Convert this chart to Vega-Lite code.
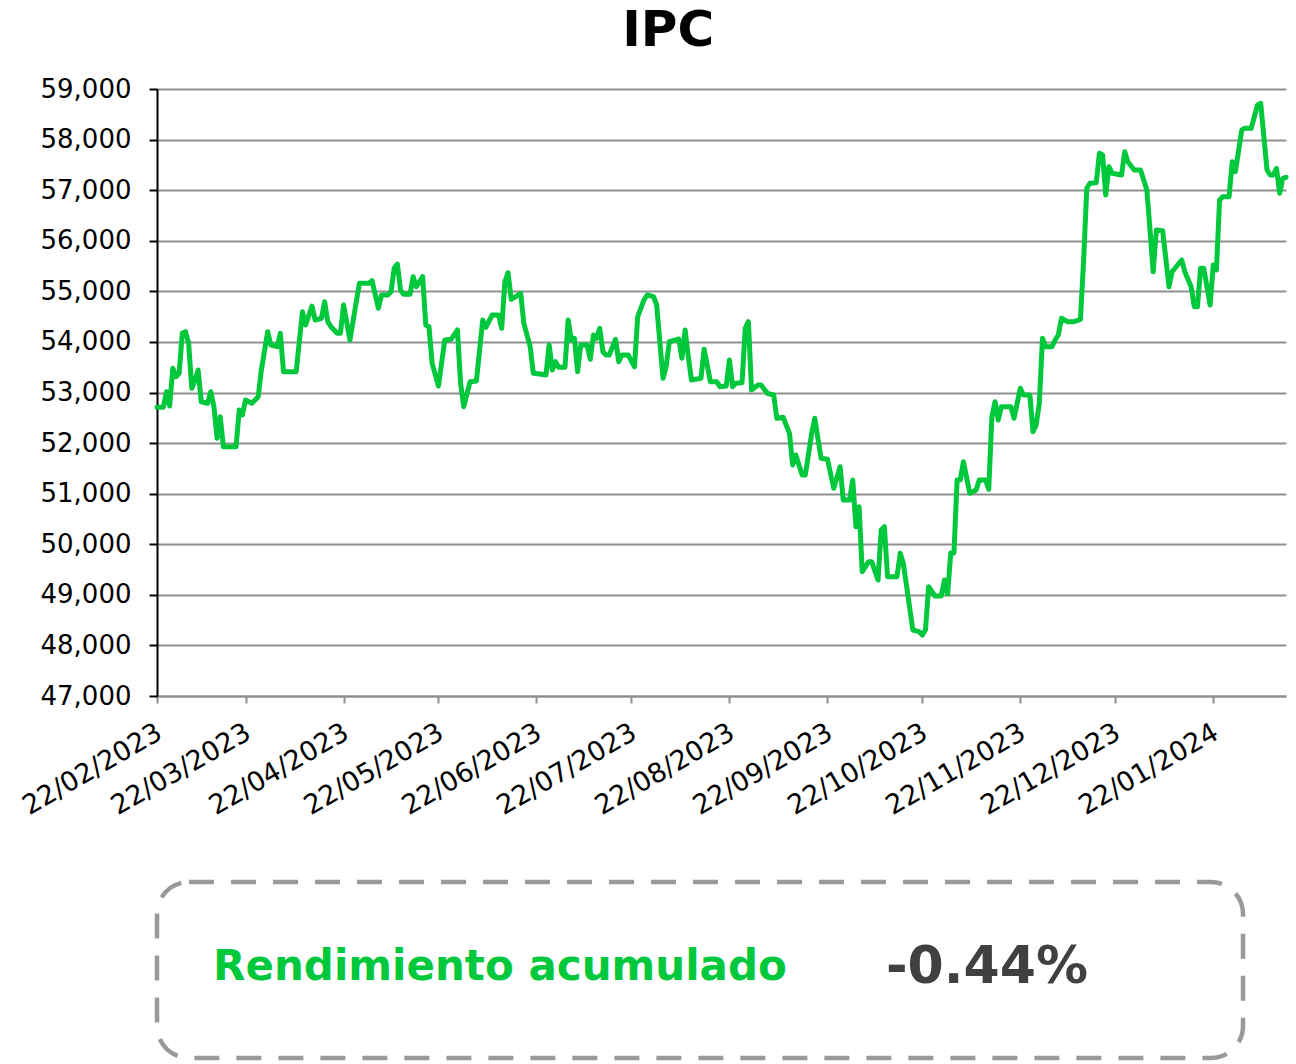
{
 "$schema": "https://vega.github.io/schema/vega-lite/v6.json",
 "padding": {"left": 17, "top": 6, "right": 5, "bottom": 0},
 "background": "white",
 "config": {"view": {"stroke": null}, "font": "DejaVu Sans"},
 "bounds": "flush",
 "spacing": 186,
 "vconcat": [
  {
   "width": 1129,
   "height": 607,
   "title": {"text": "IPC", "fontSize": 50, "fontWeight": "bold", "font": "DejaVu Sans", "color": "black", "anchor": "middle", "frame": "bounds", "offset": 20, "dx": 15},
   "data": {"values": [
    {"fecha": "2023-02-22", "valor": 52708}, {"fecha": "2023-02-24", "valor": 52708}, {"fecha": "2023-02-25", "valor": 53016}, {"fecha": "2023-02-26", "valor": 52733}, {"fecha": "2023-02-27", "valor": 53479}, {"fecha": "2023-02-28", "valor": 53312},
    {"fecha": "2023-03-01", "valor": 53380}, {"fecha": "2023-03-02", "valor": 54170}, {"fecha": "2023-03-03", "valor": 54202}, {"fecha": "2023-03-04", "valor": 53973}, {"fecha": "2023-03-05", "valor": 53083}, {"fecha": "2023-03-06", "valor": 53247}, {"fecha": "2023-03-07", "valor": 53445}, {"fecha": "2023-03-08", "valor": 52818}, {"fecha": "2023-03-10", "valor": 52787}, {"fecha": "2023-03-11", "valor": 53016}, {"fecha": "2023-03-12", "valor": 52719}, {"fecha": "2023-03-13", "valor": 52095}, {"fecha": "2023-03-14", "valor": 52522}, {"fecha": "2023-03-15", "valor": 51929}, {"fecha": "2023-03-19", "valor": 51929}, {"fecha": "2023-03-20", "valor": 52654}, {"fecha": "2023-03-21", "valor": 52555}, {"fecha": "2023-03-22", "valor": 52852}, {"fecha": "2023-03-24", "valor": 52787}, {"fecha": "2023-03-26", "valor": 52917}, {"fecha": "2023-03-27", "valor": 53445}, {"fecha": "2023-03-29", "valor": 54202}, {"fecha": "2023-03-30", "valor": 53939},
    {"fecha": "2023-04-01", "valor": 53906}, {"fecha": "2023-04-02", "valor": 54170}, {"fecha": "2023-04-03", "valor": 53411}, {"fecha": "2023-04-07", "valor": 53411}, {"fecha": "2023-04-09", "valor": 54597}, {"fecha": "2023-04-10", "valor": 54335}, {"fecha": "2023-04-12", "valor": 54710}, {"fecha": "2023-04-13", "valor": 54433}, {"fecha": "2023-04-15", "valor": 54467}, {"fecha": "2023-04-16", "valor": 54795}, {"fecha": "2023-04-17", "valor": 54400}, {"fecha": "2023-04-18", "valor": 54301}, {"fecha": "2023-04-20", "valor": 54170}, {"fecha": "2023-04-21", "valor": 54170}, {"fecha": "2023-04-22", "valor": 54730}, {"fecha": "2023-04-24", "valor": 54038}, {"fecha": "2023-04-27", "valor": 55159}, {"fecha": "2023-04-30", "valor": 55159},
    {"fecha": "2023-05-01", "valor": 55210}, {"fecha": "2023-05-03", "valor": 54665}, {"fecha": "2023-05-04", "valor": 54928}, {"fecha": "2023-05-06", "valor": 54928}, {"fecha": "2023-05-07", "valor": 54993}, {"fecha": "2023-05-08", "valor": 55455}, {"fecha": "2023-05-09", "valor": 55540}, {"fecha": "2023-05-10", "valor": 55026}, {"fecha": "2023-05-11", "valor": 54941}, {"fecha": "2023-05-13", "valor": 54941}, {"fecha": "2023-05-14", "valor": 55289}, {"fecha": "2023-05-15", "valor": 55092}, {"fecha": "2023-05-17", "valor": 55289}, {"fecha": "2023-05-18", "valor": 54335}, {"fecha": "2023-05-19", "valor": 54301}, {"fecha": "2023-05-20", "valor": 53577}, {"fecha": "2023-05-22", "valor": 53129}, {"fecha": "2023-05-24", "valor": 54038}, {"fecha": "2023-05-26", "valor": 54052}, {"fecha": "2023-05-28", "valor": 54236}, {"fecha": "2023-05-29", "valor": 53182}, {"fecha": "2023-05-30", "valor": 52719},
    {"fecha": "2023-06-01", "valor": 53214}, {"fecha": "2023-06-03", "valor": 53228}, {"fecha": "2023-06-05", "valor": 54433}, {"fecha": "2023-06-06", "valor": 54289}, {"fecha": "2023-06-08", "valor": 54532}, {"fecha": "2023-06-10", "valor": 54532}, {"fecha": "2023-06-11", "valor": 54269}, {"fecha": "2023-06-12", "valor": 55190}, {"fecha": "2023-06-13", "valor": 55368}, {"fecha": "2023-06-14", "valor": 54843}, {"fecha": "2023-06-17", "valor": 54961}, {"fecha": "2023-06-18", "valor": 54368}, {"fecha": "2023-06-20", "valor": 53906}, {"fecha": "2023-06-21", "valor": 53380}, {"fecha": "2023-06-23", "valor": 53366}, {"fecha": "2023-06-25", "valor": 53346}, {"fecha": "2023-06-26", "valor": 53939}, {"fecha": "2023-06-27", "valor": 53445}, {"fecha": "2023-06-28", "valor": 53609}, {"fecha": "2023-06-29", "valor": 53498},
    {"fecha": "2023-07-01", "valor": 53498}, {"fecha": "2023-07-02", "valor": 54433}, {"fecha": "2023-07-03", "valor": 54038}, {"fecha": "2023-07-04", "valor": 54072}, {"fecha": "2023-07-05", "valor": 53411}, {"fecha": "2023-07-06", "valor": 53939}, {"fecha": "2023-07-08", "valor": 53939}, {"fecha": "2023-07-09", "valor": 53656}, {"fecha": "2023-07-10", "valor": 54137}, {"fecha": "2023-07-11", "valor": 54072}, {"fecha": "2023-07-12", "valor": 54269}, {"fecha": "2023-07-13", "valor": 53807}, {"fecha": "2023-07-14", "valor": 53741}, {"fecha": "2023-07-15", "valor": 53741}, {"fecha": "2023-07-17", "valor": 54052}, {"fecha": "2023-07-18", "valor": 53609}, {"fecha": "2023-07-19", "valor": 53741}, {"fecha": "2023-07-21", "valor": 53741}, {"fecha": "2023-07-23", "valor": 53510}, {"fecha": "2023-07-24", "valor": 54499}, {"fecha": "2023-07-26", "valor": 54829}, {"fecha": "2023-07-27", "valor": 54928}, {"fecha": "2023-07-29", "valor": 54894}, {"fecha": "2023-07-30", "valor": 54730},
    {"fecha": "2023-08-01", "valor": 53281}, {"fecha": "2023-08-02", "valor": 53510}, {"fecha": "2023-08-03", "valor": 54004}, {"fecha": "2023-08-05", "valor": 54038}, {"fecha": "2023-08-06", "valor": 54058}, {"fecha": "2023-08-07", "valor": 53676}, {"fecha": "2023-08-08", "valor": 54236}, {"fecha": "2023-08-09", "valor": 53708}, {"fecha": "2023-08-10", "valor": 53247}, {"fecha": "2023-08-13", "valor": 53281}, {"fecha": "2023-08-14", "valor": 53854}, {"fecha": "2023-08-16", "valor": 53214}, {"fecha": "2023-08-18", "valor": 53214}, {"fecha": "2023-08-19", "valor": 53115}, {"fecha": "2023-08-21", "valor": 53129}, {"fecha": "2023-08-22", "valor": 53643}, {"fecha": "2023-08-23", "valor": 53115}, {"fecha": "2023-08-24", "valor": 53182}, {"fecha": "2023-08-26", "valor": 53194}, {"fecha": "2023-08-27", "valor": 54269}, {"fecha": "2023-08-28", "valor": 54400}, {"fecha": "2023-08-29", "valor": 53050}, {"fecha": "2023-08-31", "valor": 53148},
    {"fecha": "2023-09-01", "valor": 53148}, {"fecha": "2023-09-03", "valor": 52984}, {"fecha": "2023-09-05", "valor": 52951}, {"fecha": "2023-09-06", "valor": 52490}, {"fecha": "2023-09-08", "valor": 52510}, {"fecha": "2023-09-10", "valor": 52193}, {"fecha": "2023-09-11", "valor": 51567}, {"fecha": "2023-09-12", "valor": 51765}, {"fecha": "2023-09-14", "valor": 51369}, {"fecha": "2023-09-15", "valor": 51369}, {"fecha": "2023-09-17", "valor": 52193}, {"fecha": "2023-09-18", "valor": 52490}, {"fecha": "2023-09-20", "valor": 51699}, {"fecha": "2023-09-22", "valor": 51680}, {"fecha": "2023-09-24", "valor": 51106}, {"fecha": "2023-09-26", "valor": 51533}, {"fecha": "2023-09-27", "valor": 50875}, {"fecha": "2023-09-29", "valor": 50875}, {"fecha": "2023-09-30", "valor": 51270},
    {"fecha": "2023-10-01", "valor": 50347}, {"fecha": "2023-10-02", "valor": 50742}, {"fecha": "2023-10-03", "valor": 49457}, {"fecha": "2023-10-05", "valor": 49655}, {"fecha": "2023-10-06", "valor": 49655}, {"fecha": "2023-10-08", "valor": 49293}, {"fecha": "2023-10-09", "valor": 50282}, {"fecha": "2023-10-10", "valor": 50347}, {"fecha": "2023-10-11", "valor": 49359}, {"fecha": "2023-10-14", "valor": 49359}, {"fecha": "2023-10-15", "valor": 49821}, {"fecha": "2023-10-16", "valor": 49623}, {"fecha": "2023-10-19", "valor": 48305}, {"fecha": "2023-10-21", "valor": 48271}, {"fecha": "2023-10-22", "valor": 48206}, {"fecha": "2023-10-23", "valor": 48305}, {"fecha": "2023-10-24", "valor": 49161}, {"fecha": "2023-10-26", "valor": 48977}, {"fecha": "2023-10-28", "valor": 48977}, {"fecha": "2023-10-29", "valor": 49293}, {"fecha": "2023-10-30", "valor": 49017}, {"fecha": "2023-10-31", "valor": 49827},
    {"fecha": "2023-11-01", "valor": 49827}, {"fecha": "2023-11-02", "valor": 51270}, {"fecha": "2023-11-03", "valor": 51270}, {"fecha": "2023-11-04", "valor": 51632}, {"fecha": "2023-11-06", "valor": 51007}, {"fecha": "2023-11-08", "valor": 51073}, {"fecha": "2023-11-09", "valor": 51270}, {"fecha": "2023-11-11", "valor": 51270}, {"fecha": "2023-11-12", "valor": 51086}, {"fecha": "2023-11-13", "valor": 52522}, {"fecha": "2023-11-14", "valor": 52818}, {"fecha": "2023-11-15", "valor": 52456}, {"fecha": "2023-11-16", "valor": 52719}, {"fecha": "2023-11-19", "valor": 52719}, {"fecha": "2023-11-20", "valor": 52490}, {"fecha": "2023-11-22", "valor": 53083}, {"fecha": "2023-11-23", "valor": 52951}, {"fecha": "2023-11-25", "valor": 52951}, {"fecha": "2023-11-26", "valor": 52225}, {"fecha": "2023-11-27", "valor": 52358}, {"fecha": "2023-11-28", "valor": 52787}, {"fecha": "2023-11-29", "valor": 54071}, {"fecha": "2023-11-30", "valor": 53906},
    {"fecha": "2023-12-02", "valor": 53906}, {"fecha": "2023-12-03", "valor": 54038}, {"fecha": "2023-12-04", "valor": 54137}, {"fecha": "2023-12-05", "valor": 54467}, {"fecha": "2023-12-07", "valor": 54400}, {"fecha": "2023-12-09", "valor": 54400}, {"fecha": "2023-12-11", "valor": 54447}, {"fecha": "2023-12-12", "valor": 55600}, {"fecha": "2023-12-13", "valor": 57037}, {"fecha": "2023-12-14", "valor": 57136}, {"fecha": "2023-12-16", "valor": 57148}, {"fecha": "2023-12-17", "valor": 57729}, {"fecha": "2023-12-18", "valor": 57695}, {"fecha": "2023-12-19", "valor": 56904}, {"fecha": "2023-12-20", "valor": 57464}, {"fecha": "2023-12-21", "valor": 57333}, {"fecha": "2023-12-24", "valor": 57300}, {"fecha": "2023-12-25", "valor": 57760}, {"fecha": "2023-12-26", "valor": 57563}, {"fecha": "2023-12-28", "valor": 57399}, {"fecha": "2023-12-30", "valor": 57399},
    {"fecha": "2024-01-01", "valor": 57003}, {"fecha": "2024-01-02", "valor": 56213}, {"fecha": "2024-01-03", "valor": 55388}, {"fecha": "2024-01-04", "valor": 56213}, {"fecha": "2024-01-06", "valor": 56199}, {"fecha": "2024-01-08", "valor": 55092}, {"fecha": "2024-01-09", "valor": 55388}, {"fecha": "2024-01-12", "valor": 55620}, {"fecha": "2024-01-13", "valor": 55388}, {"fecha": "2024-01-15", "valor": 55092}, {"fecha": "2024-01-16", "valor": 54696}, {"fecha": "2024-01-17", "valor": 54696}, {"fecha": "2024-01-18", "valor": 55455}, {"fecha": "2024-01-19", "valor": 55455}, {"fecha": "2024-01-21", "valor": 54730}, {"fecha": "2024-01-22", "valor": 55521}, {"fecha": "2024-01-23", "valor": 55422}, {"fecha": "2024-01-24", "valor": 56806}, {"fecha": "2024-01-25", "valor": 56871}, {"fecha": "2024-01-27", "valor": 56871}, {"fecha": "2024-01-28", "valor": 57563}, {"fecha": "2024-01-29", "valor": 57365}, {"fecha": "2024-01-31", "valor": 58189},
    {"fecha": "2024-02-01", "valor": 58223}, {"fecha": "2024-02-03", "valor": 58223}, {"fecha": "2024-02-05", "valor": 58684}, {"fecha": "2024-02-06", "valor": 58717}, {"fecha": "2024-02-07", "valor": 58057}, {"fecha": "2024-02-08", "valor": 57399}, {"fecha": "2024-02-09", "valor": 57300}, {"fecha": "2024-02-10", "valor": 57300}, {"fecha": "2024-02-11", "valor": 57432}, {"fecha": "2024-02-12", "valor": 56938}, {"fecha": "2024-02-13", "valor": 57235}, {"fecha": "2024-02-14", "valor": 57254}
   ]},
   "mark": {"type": "line", "color": "#00c83c", "strokeWidth": 5, "strokeJoin": "round", "strokeCap": "round"},
   "encoding": {
    "x": {
     "field": "fecha", "type": "temporal",
     "scale": {"type": "utc", "domain": [{"year": 2023, "month": 2, "date": 22, "utc": true}, {"year": 2024, "month": 2, "date": 14, "utc": true}]},
     "axis": {
      "values": [
       {"year": 2023, "month": 2, "date": 22, "utc": true}, {"year": 2023, "month": 3, "date": 22, "utc": true}, {"year": 2023, "month": 4, "date": 22, "utc": true}, {"year": 2023, "month": 5, "date": 22, "utc": true}, {"year": 2023, "month": 6, "date": 22, "utc": true}, {"year": 2023, "month": 7, "date": 22, "utc": true}, {"year": 2023, "month": 8, "date": 22, "utc": true}, {"year": 2023, "month": 9, "date": 22, "utc": true}, {"year": 2023, "month": 10, "date": 22, "utc": true}, {"year": 2023, "month": 11, "date": 22, "utc": true}, {"year": 2023, "month": 12, "date": 22, "utc": true}, {"year": 2024, "month": 1, "date": 22, "utc": true}
      ],
      "labelExpr": "utcFormat(datum.value, '%d/%m/%Y')",
      "labelAngle": -30, "labelAlign": "right", "labelBaseline": "top",
      "labelFontSize": 27, "labelColor": "black", "labelFont": "DejaVu Sans",
      "labelPadding": 16, "labelOffset": -4, "labelFlush": false, "labelOverlap": false, "labelBound": false,
      "tickColor": "#8f8f8f", "tickWidth": 2, "tickSize": 7,
      "domainColor": "#8f8f8f", "domainWidth": 2, "grid": false, "title": null
     }
    },
    "y": {
     "field": "valor", "type": "quantitative",
     "scale": {"domain": [47000, 59000], "nice": false, "zero": false},
     "axis": {
      "values": [47000, 48000, 49000, 50000, 51000, 52000, 53000, 54000, 55000, 56000, 57000, 58000, 59000],
      "format": ",.0f", "labelFontSize": 26, "labelColor": "black", "labelFont": "DejaVu Sans",
      "labelPadding": 18, "labelFlush": false, "tickSize": 8, "tickColor": "black", "tickWidth": 2,
      "domainColor": "black", "domainWidth": 2, "grid": true, "gridColor": "#8f8f8f", "gridWidth": 2, "title": null
     }
    }
   }
  },
  {
   "width": 1086,
   "height": 176,
   "view": {"stroke": "#999999", "strokeWidth": 4.5, "strokeDash": [25, 17], "cornerRadius": 32, "fill": null},
   "layer": [
    {
     "data": {"values": [{"tipo": "etiqueta", "texto": "Rendimiento acumulado"}]},
     "mark": {"type": "text", "font": "DejaVu Sans", "fontWeight": "bold", "fontSize": 42, "color": "#00c83c", "align": "center", "baseline": "middle", "dy": -3},
     "encoding": {
      "x": {"field": "tipo", "type": "nominal", "scale": {"type": "point", "domain": ["etiqueta", "valor"], "padding": 0.615, "align": 0.5726}, "axis": null},
      "text": {"field": "texto"}
     }
    },
    {
     "data": {"values": [{"tipo": "valor", "texto": "-0.44%"}]},
     "mark": {"type": "text", "font": "DejaVu Sans", "fontWeight": "bold", "fontSize": 52, "color": "#404040", "align": "center", "baseline": "middle", "dy": -3},
     "encoding": {
      "x": {"field": "tipo", "type": "nominal", "axis": null},
      "text": {"field": "texto"}
     }
    }
   ]
  }
 ]
}
